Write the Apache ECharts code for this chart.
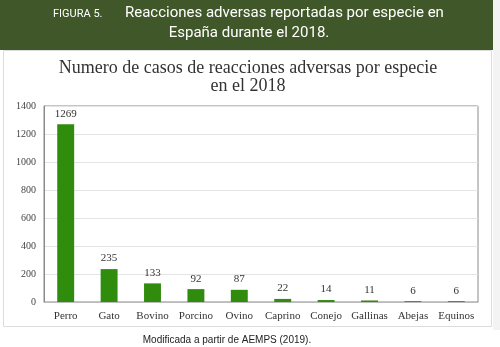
<!DOCTYPE html>
<html>
<head>
<meta charset="utf-8">
<script src="https://cdn.jsdelivr.net/npm/echarts@6/dist/echarts.min.js"></script>
<style>
  html, body { margin: 0; padding: 0; background: #ffffff; }
  #chart { width: 500px; height: 347px; }
</style>
</head>
<body>
<div id="chart"></div>
<script>
// Adverse reaction cases by species, Spain 2018
const categories = ['Perro', 'Gato', 'Bovino', 'Porcino', 'Ovino', 'Caprino', 'Conejo', 'Gallinas', 'Abejas', 'Equinos'];
const casos = [1269, 235, 133, 92, 87, 22, 14, 11, 6, 6];
const yTicks = { min: 0, max: 1400, interval: 200 };

const serif = '"Liberation Serif", "DejaVu Serif", serif';
const headerFont = 'Roboto, "Noto Sans", sans-serif';

const chart = echarts.init(document.getElementById('chart'), null, { renderer: 'canvas' });

chart.setOption({
  animation: false,
  backgroundColor: '#ffffff',
  grid: {
    left: 44, right: 22, top: 106, bottom: 45,
    show: true, borderColor: '#8a8a8a', borderWidth: 1
  },
  graphic: [
    // header band
    { type: 'rect', shape: { x: 0, y: 0, width: 493, height: 50 }, style: { fill: '#405829' }, z: 0 },
    { type: 'text', left: 53, top: 9, style: { text: 'FIGURA 5.', fill: '#ffffff', font: '11px ' + headerFont } },
    { type: 'text', left: 125, top: 6, style: { text: 'Reacciones adversas reportadas por especie en', fill: '#ffffff', font: '15px ' + headerFont } },
    { type: 'text', x: 249, y: 33, style: { text: 'España durante el 2018.', fill: '#ffffff', font: '15px ' + headerFont, align: 'center', verticalAlign: 'middle' } },
    // strip to the right of the chart box
    { type: 'rect', shape: { x: 493, y: 0, width: 7, height: 330 }, style: { fill: '#f3f3f3' }, z: 0 },
    // chart frame
    { type: 'rect', shape: { x: 3.5, y: 50.5, width: 488, height: 276 }, style: { fill: 'none', stroke: '#dcdcdc', lineWidth: 1 }, z: 0 },
    // chart title
    { type: 'text', x: 248, y: 68, style: { text: 'Numero de casos de reacciones adversas por especie', fill: '#333333', font: '18px ' + serif, align: 'center', verticalAlign: 'middle' } },
    { type: 'text', x: 248, y: 86, style: { text: 'en el 2018', fill: '#333333', font: '18px ' + serif, align: 'center', verticalAlign: 'middle' } },
    // source note
    { type: 'text', x: 227, y: 340, style: { text: 'Modificada a partir de AEMPS (2019).', fill: '#222222', font: '10px "Liberation Sans", Arial, sans-serif', align: 'center', verticalAlign: 'middle' } }
  ],
  xAxis: {
    type: 'category',
    data: categories,
    axisTick: { show: false },
    axisLine: { show: true, lineStyle: { color: '#bbbbbb' } },
    axisLabel: { color: '#333333', fontFamily: serif, fontSize: 11, margin: 9, interval: 0 }
  },
  yAxis: {
    type: 'value',
    min: yTicks.min, max: yTicks.max, interval: yTicks.interval,
    axisLine: { show: true, lineStyle: { color: '#8a8a8a' } },
    axisTick: { show: false },
    axisLabel: { color: '#444444', fontFamily: serif, fontSize: 10, margin: 8, formatter: v => String(v) },
    splitLine: { lineStyle: { color: '#e4e4e4' } }
  },
  series: [{
    type: 'bar',
    data: casos,
    barWidth: '39%',
    itemStyle: { color: '#2f8c0c' },
    label: { show: true, position: 'top', distance: 5, color: '#333333', fontFamily: serif, fontSize: 11 }
  }]
});
</script>
</body>
</html>
